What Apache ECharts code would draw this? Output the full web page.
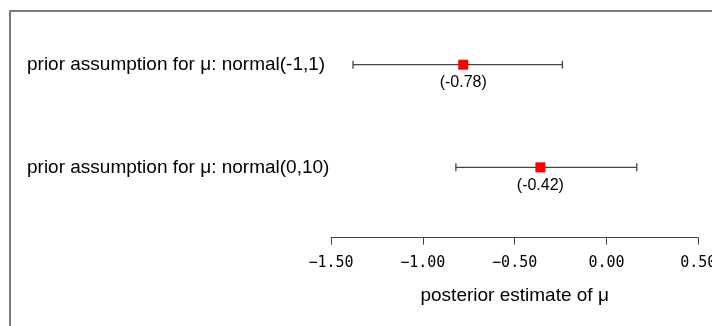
<!DOCTYPE html>
<html>
<head>
<meta charset="utf-8">
<script src="https://cdn.jsdelivr.net/npm/echarts@6/dist/echarts.min.js"></script>
<style>
  html, body { margin: 0; padding: 0; background: #fff; }
  #chart { width: 712px; height: 326px; }
</style>
</head>
<body>
<div id="chart"></div>
<script>
// Data (top row first)
var categories = ['prior assumption for μ: normal(-1,1)', 'prior assumption for μ: normal(0,10)'];
var lowValues = [-1.38, -0.82];
var pointValues = [-0.78, -0.36];
var highValues = [-0.24, 0.165];
var pointLabels = ['(-0.78)', '(-0.42)'];
var xTicks = [-1.5, -1.0, -0.5, 0.0, 0.5];
var xTitle = 'posterior estimate of μ';

var chart = echarts.init(document.getElementById('chart'), null, { renderer: 'canvas' });

var errData = categories.map(function (c, i) { return [lowValues[i], highValues[i], i]; });
var ptData = categories.map(function (c, i) { return [pointValues[i], i]; });

var option = {
  animation: false,
  backgroundColor: '#ffffff',
  graphic: [{
    type: 'rect',
    shape: { x: 10, y: 11, width: 800, height: 400 },
    style: { fill: null, stroke: '#7a7a7a', lineWidth: 2 },
    silent: true,
    z: -10
  }],
  grid: {
    left: 331, right: 712 - 698.3, top: 13.4, height: 205.2,
    containLabel: false, outerBoundsMode: 'none'
  },
  xAxis: {
    type: 'value',
    min: xTicks[0],
    max: xTicks[xTicks.length - 1],
    interval: 0.5,
    position: 'bottom',
    offset: 19.1,
    splitLine: { show: false },
    axisLine: { show: true, onZero: false, lineStyle: { color: '#444', width: 1 } },
    axisTick: { show: true, length: 7, lineStyle: { color: '#444', width: 1 } },
    axisLabel: {
      margin: 18,
      color: '#000',
      fontFamily: 'DejaVu Sans Mono',
      fontSize: 15,
      formatter: function (v) { return v.toFixed(2).replace('-', '\u2212'); }
    },
    name: xTitle,
    nameLocation: 'middle',
    nameGap: 49,
    nameTextStyle: { color: '#000', fontFamily: 'Liberation Sans', fontSize: 19 }
  },
  yAxis: {
    type: 'category',
    data: categories,
    inverse: true,
    axisLine: { show: false },
    axisTick: { show: false },
    splitLine: { show: false },
    axisLabel: {
      align: 'left',
      margin: 304,
      color: '#000',
      fontFamily: 'Liberation Sans',
      fontSize: 19
    }
  },
  series: [{
    type: 'custom',
    data: errData,
    encode: { x: [0, 1], y: 2 },
    renderItem: function (params, api) {
      var cat = api.value(2);
      var p1 = api.coord([api.value(0), cat]);
      var p2 = api.coord([api.value(1), cat]);
      var h = 4;
      var st = { stroke: '#444', lineWidth: 1.3 };
      return {
        type: 'group',
        children: [
          { type: 'line', shape: { x1: p1[0], y1: p1[1], x2: p2[0], y2: p2[1] }, style: st },
          { type: 'line', shape: { x1: p1[0], y1: p1[1] - h, x2: p1[0], y2: p1[1] + h }, style: st },
          { type: 'line', shape: { x1: p2[0], y1: p2[1] - h, x2: p2[0], y2: p2[1] + h }, style: st }
        ]
      };
    },
    z: 1
  }, {
    type: 'scatter',
    data: ptData,
    symbol: 'rect',
    symbolSize: 10,
    itemStyle: { color: '#ff0000', opacity: 1 },
    emphasis: { disabled: true },
    label: {
      show: true,
      position: 'bottom',
      distance: 5,
      color: '#000000',
      opacity: 1,
      textBorderWidth: 0,
      fontFamily: 'Liberation Sans',
      fontSize: 16,
      formatter: function (p) { return pointLabels[p.dataIndex]; }
    },
    z: 3
  }]
};
chart.setOption(option);
</script>
</body>
</html>
